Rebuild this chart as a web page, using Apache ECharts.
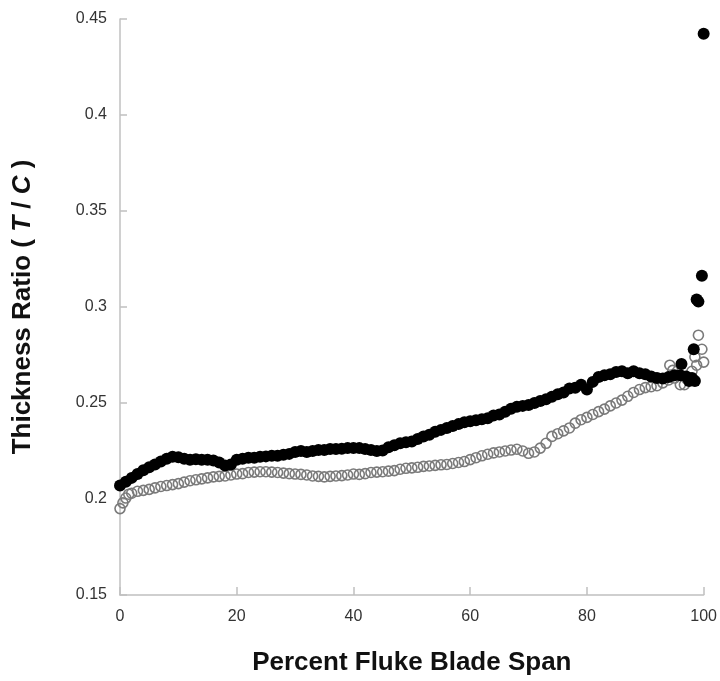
<!DOCTYPE html>
<html>
<head>
<meta charset="utf-8">
<script src="https://cdn.jsdelivr.net/npm/echarts@6/dist/echarts.min.js"></script>
<style>html,body{margin:0;padding:0;background:#fff;}#c{width:720px;height:681px;}</style>
</head>
<body>
<div id="c"></div>
<script>
// Filled circles (black series)
var spanFilled = [0,1,2,3,4,5,6,7,8,9,10,11,12,13,14,15,16,17,18,19,20,21,22,23,24,25,26,27,28,29,30,31,32,33,34,35,36,37,38,39,40,41,42,43,44,45,46,47,48,49,50,51,52,53,54,55,56,57,58,59,60,61,62,63,64,65,66,67,68,69,70,71,72,73,74,75,76,77,78,79,80,81,82,83,84,85,86,87,88,89,90,91,92,93,94,95,96,97,97.5,98,98.5,96.2,98.3,98.8,99.1,99.7,100];
var ratioFilled = [0.207,0.209,0.211,0.213,0.215,0.2165,0.218,0.2195,0.221,0.222,0.2218,0.221,0.2205,0.2207,0.2205,0.2205,0.220,0.219,0.2175,0.218,0.2205,0.221,0.2215,0.2215,0.222,0.2222,0.2225,0.2225,0.223,0.2235,0.2245,0.225,0.2245,0.225,0.2255,0.2255,0.226,0.226,0.2262,0.2265,0.2265,0.2265,0.226,0.2255,0.225,0.2252,0.227,0.228,0.229,0.2295,0.230,0.2312,0.2325,0.2335,0.235,0.236,0.237,0.238,0.239,0.240,0.2405,0.241,0.2415,0.242,0.2435,0.244,0.2455,0.247,0.248,0.2485,0.249,0.250,0.251,0.252,0.2533,0.2545,0.2555,0.2575,0.258,0.2595,0.257,0.261,0.2636,0.2645,0.265,0.2662,0.2665,0.2655,0.2665,0.2655,0.265,0.2638,0.263,0.2628,0.2635,0.2645,0.2645,0.2638,0.2615,0.263,0.2615,0.2703,0.278,0.3039,0.3028,0.3163,0.4423];
// Open circles (grey series)
var spanOpen = [0,0.5,1,1.5,2,3,4,5,6,7,8,9,10,11,12,13,14,15,16,17,18,19,20,21,22,23,24,25,26,27,28,29,30,31,32,33,34,35,36,37,38,39,40,41,42,43,44,45,46,47,48,49,50,51,52,53,54,55,56,57,58,59,60,61,62,63,64,65,66,67,68,69,70,71,72,73,74,75,76,77,78,79,80,81,82,83,84,85,86,87,88,89,90,91,92,93,94,94.2,94.7,95,96,96.7,97.1,98,98.5,98.8,99.1,99.7,100];
var ratioOpen = [0.195,0.198,0.2005,0.2025,0.203,0.204,0.2045,0.205,0.2058,0.2065,0.207,0.2075,0.208,0.2088,0.2095,0.210,0.2105,0.211,0.2115,0.2118,0.212,0.2125,0.213,0.2132,0.2138,0.214,0.2142,0.2142,0.214,0.2138,0.2135,0.2132,0.213,0.2128,0.2125,0.212,0.2118,0.2115,0.2118,0.212,0.2122,0.2125,0.213,0.2128,0.2132,0.2138,0.214,0.2142,0.2145,0.2148,0.2155,0.216,0.2162,0.2165,0.217,0.2172,0.2175,0.2178,0.218,0.2185,0.219,0.2195,0.2205,0.2215,0.2225,0.2233,0.224,0.2245,0.225,0.2255,0.2259,0.225,0.2238,0.2245,0.2265,0.229,0.2326,0.234,0.2355,0.237,0.2395,0.2413,0.2425,0.244,0.2455,0.2468,0.2485,0.250,0.2515,0.2535,0.2555,0.257,0.258,0.2585,0.259,0.2605,0.262,0.2697,0.267,0.263,0.2595,0.2595,0.2626,0.2665,0.274,0.2697,0.2853,0.278,0.2713];
var xTicks = [0,20,40,60,80,100];
var yTicks = [0.15,0.2,0.25,0.3,0.35,0.4,0.45];

function zip(a,b){var r=[];for(var i=0;i<a.length;i++){r.push([a[i],b[i]]);}return r;}

var chart = echarts.init(document.getElementById('c'));
var font = 'Liberation Sans, Arial, Helvetica, sans-serif';
chart.setOption({
  animation:false,
  backgroundColor:'#fff',
  grid:{left:120,right:16,top:19,bottom:81},
  xAxis:{
    type:'value',min:xTicks[0],max:xTicks[xTicks.length-1],interval:20,
    name:'Percent Fluke Blade Span',nameLocation:'middle',nameGap:55,
    nameTextStyle:{fontFamily:font,fontSize:26,fontWeight:'bold',color:'#111'},
    axisLine:{lineStyle:{color:'#c0c0c0',width:1.5}},
    axisTick:{inside:true,length:8,lineStyle:{color:'#c0c0c0',width:1.5}},
    axisLabel:{fontFamily:font,fontSize:16,color:'#333',margin:14},
    splitLine:{show:false}
  },
  yAxis:{
    type:'value',min:yTicks[0],max:yTicks[yTicks.length-1],interval:0.05,
    name:'Thickness Ratio ( {i|T} / {i|C} )',nameLocation:'middle',nameGap:84,
    nameTextStyle:{fontFamily:font,fontSize:26,fontWeight:'bold',color:'#111',
      rich:{i:{fontFamily:font,fontSize:26,fontWeight:'bold',fontStyle:'italic',color:'#111'}}},
    axisLine:{show:true,lineStyle:{color:'#c0c0c0',width:1.5}},
    axisTick:{show:true,inside:true,length:7,lineStyle:{color:'#c0c0c0',width:1.5}},
    axisLabel:{fontFamily:font,fontSize:16,color:'#333',margin:13},
    splitLine:{show:false}
  },
  series:[
    {type:'scatter',data:zip(spanOpen,ratioOpen),symbol:'circle',symbolSize:10,
     itemStyle:{color:'rgba(255,255,255,0)',borderColor:'#7a7a7a',borderWidth:1.6,opacity:1}},
    {type:'scatter',data:zip(spanFilled,ratioFilled),symbol:'circle',symbolSize:12,
     itemStyle:{color:'#000',opacity:1}}
  ]
});
</script>
</body>
</html>
